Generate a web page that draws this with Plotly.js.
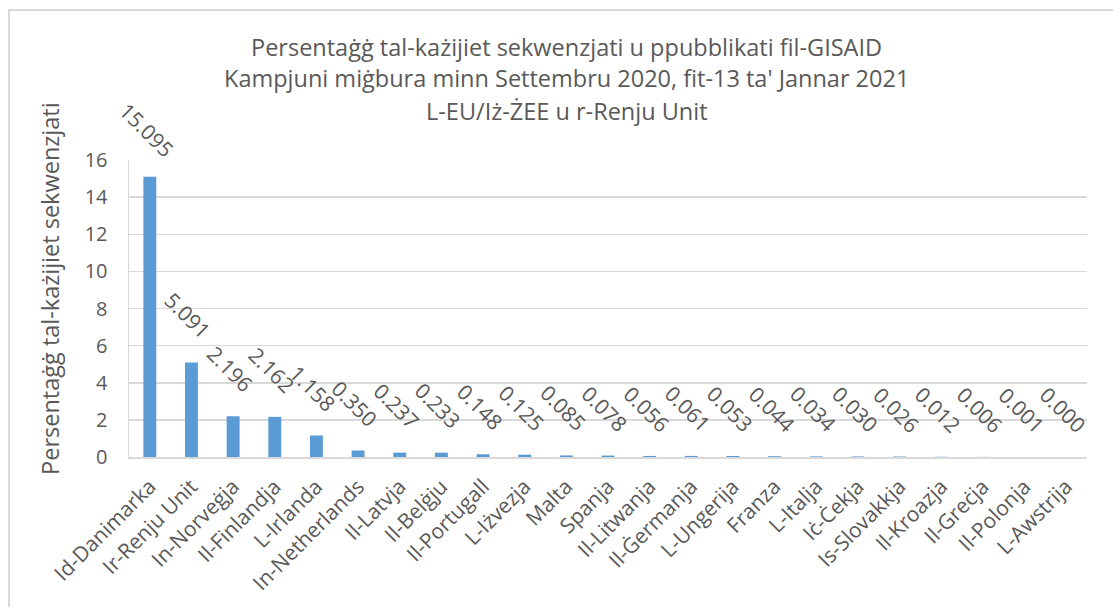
<!DOCTYPE html>
<html>
<head>
<meta charset="utf-8">
<script src="https://cdn.plot.ly/plotly-3.0.1.min.js"></script>
<style>
  html, body { margin: 0; padding: 0; background: #fff; overflow: hidden; }
  #wrap { position: relative; width: 1113px; height: 607px; }
  #chart { position: absolute; left: 0; top: 0; width: 1113px; height: 607px; }
  #frame { position: absolute; left: 8px; top: 9px; width: 1200px; height: 700px;
           border-top: 2px solid #D9D9D9; border-left: 2px solid #D9D9D9; box-sizing: border-box; pointer-events: none; }
</style>
</head>
<body>
<div id="wrap">
  <div id="chart"></div>
  <div id="frame"></div>
</div>
<script>
const countries = [
  "Id-Danimarka", "Ir-Renju Unit", "In-Norveġja", "Il-Finlandja", "L-Irlanda",
  "In-Netherlands", "Il-Latvja", "Il-Belġju", "Il-Portugall", "L-Iżvezja",
  "Malta", "Spanja", "Il-Litwanja", "Il-Ġermanja", "L-Ungerija",
  "Franza", "L-Italja", "Iċ-Ċekja", "Is-Slovakkja", "Il-Kroazja",
  "Il-Greċja", "Il-Polonja", "L-Awstrija"
];
const percentages = [
  15.095, 5.091, 2.196, 2.162, 1.158,
  0.350, 0.237, 0.233, 0.148, 0.125,
  0.085, 0.078, 0.056, 0.061, 0.053,
  0.044, 0.034, 0.030, 0.026, 0.012,
  0.006, 0.001, 0.000
];
const titleLines = [
  "Persentaġġ tal-każijiet sekwenzjati u ppubblikati fil-GISAID",
  "Kampjuni miġbura minn Settembru 2020, fit-13 ta' Jannar 2021",
  "L-EU/Iż-ŻEE u r-Renju Unit"
];
const yTitle = "Persentaġġ tal-każijiet sekwenzjati";
const yTicks = [0, 2, 4, 6, 8, 10, 12, 14, 16];

const FONT = "Open Sans, Noto Sans, sans-serif";
const TXT = "#595959";

const trace = {
  type: "bar",
  x: countries,
  y: percentages,
  marker: { color: "#5B9BD5" },
  hoverinfo: "x+y"
};

const annotations = [];
percentages.forEach((v, i) => {
  annotations.push({
    x: countries[i], y: v, xref: "x", yref: "y",
    text: v.toFixed(3), showarrow: false, textangle: 45,
    xanchor: "center", yanchor: "middle", xshift: -3, yshift: 47,
    font: { family: FONT, size: 21, color: TXT }
  });
});
const titleY = [1.3805, 1.2761, 1.165];
titleLines.forEach((t, i) => {
  annotations.push({
    xref: "paper", yref: "paper", x: 0.457, y: titleY[i],
    text: t, showarrow: false, xanchor: "center", yanchor: "middle",
    font: { family: FONT, size: 23.5, color: TXT }
  });
});
annotations.push({
  xref: "paper", yref: "paper", x: 0, y: 0.566, xshift: -79,
  text: yTitle, showarrow: false, textangle: -90,
  xanchor: "center", yanchor: "middle",
  font: { family: FONT, size: 23.5, color: TXT }
});

const layout = {
  width: 1113, height: 607,
  margin: { l: 129, r: 26, t: 160, b: 150 },
  paper_bgcolor: "rgba(0,0,0,0)",
  plot_bgcolor: "#fff",
  showlegend: false,
  bargap: 0.69,
  font: { family: FONT, color: TXT },
  xaxis: {
    type: "category",
    range: [-0.5, countries.length - 0.5],
    autorange: false,
    tickangle: -45,
    tickfont: { family: FONT, size: 21, color: TXT },
    showgrid: false,
    showline: true, linecolor: "#D9D9D9", linewidth: 2,
    ticks: "outside", ticklen: 7, tickcolor: "rgba(0,0,0,0)",
    automargin: false
  },
  yaxis: {
    range: [0, 16],
    autorange: false,
    tickvals: yTicks,
    ticktext: yTicks.map(String),
    tickfont: { family: FONT, size: 20, color: TXT },
    showgrid: true, gridcolor: "#D9D9D9", gridwidth: 1.5,
    zeroline: false,
    showline: true, linecolor: "#D9D9D9", linewidth: 1.5,
    ticks: "outside", ticklen: 16, tickcolor: "rgba(0,0,0,0)",
    automargin: false
  },
  annotations: annotations
};

Plotly.newPlot("chart", [trace], layout, { displayModeBar: false, staticPlot: true });
</script>
</body>
</html>
